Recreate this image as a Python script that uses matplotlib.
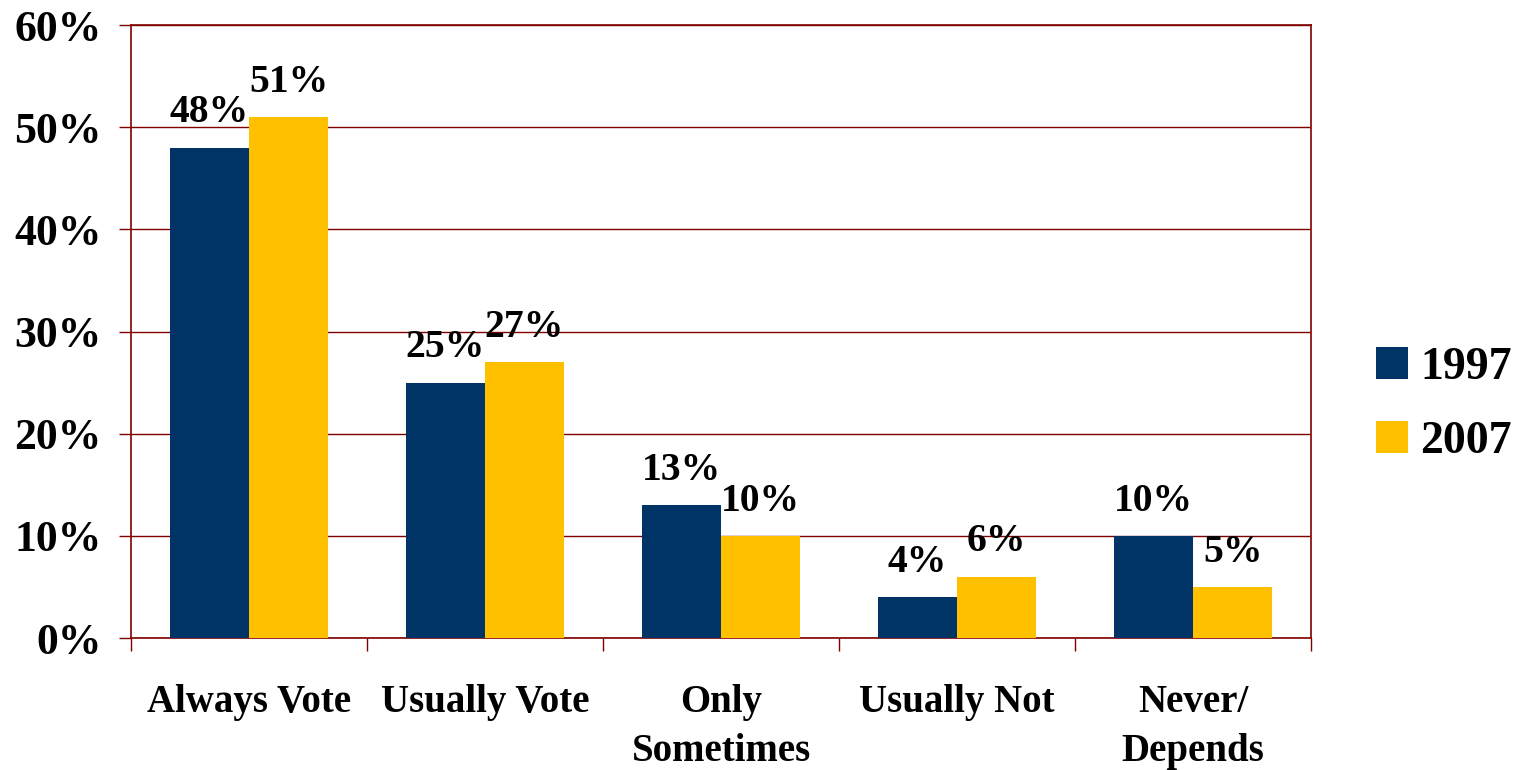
import numpy as np
import matplotlib.pyplot as plt

categories = ["Always Vote", "Usually Vote", "Only\nSometimes", "Usually Not", "Never/\nDepends"]
vals_1997 = [48, 25, 13, 4, 10]
vals_2007 = [51, 27, 10, 6, 5]
years = ["1997", "2007"]

navy = "#003366"
gold = "#FFC000"
maroon = "#800000"

plt.rcParams['font.family'] = ['Liberation Serif', 'DejaVu Serif']
plt.rcParams['font.weight'] = 'bold'

fig = plt.figure(figsize=(15.25, 7.7), dpi=100)
ax = fig.add_axes([0.0859, 0.1714, 0.7738, 0.7961])

x = np.arange(len(categories))
w = 0.335
b1 = ax.bar(x - w / 2, vals_1997, w, color=navy, label=years[0], zorder=3)
b2 = ax.bar(x + w / 2, vals_2007, w, color=gold, label=years[1], zorder=3)

for bars, vals in [(b1, vals_1997), (b2, vals_2007)]:
    for rect, v in zip(bars, vals):
        ax.text(rect.get_x() + rect.get_width() / 2, v + 1.6, f"{v}%",
                ha='center', va='bottom', fontsize=28.5, fontweight='bold')

ax.set_xlim(-0.5, len(categories) - 0.5)
ax.set_ylim(0, 60)
ax.set_yticks(np.arange(0, 61, 10))
ax.set_yticklabels([f"{t}%" for t in range(0, 61, 10)], fontsize=31.5, fontweight='bold')
ax.yaxis.grid(True, color=maroon, linewidth=1, zorder=0)

# boundaries as major ticks, category names on minor ticks
ax.set_xticks(np.arange(-0.5, len(categories), 1))
ax.set_xticklabels([])
ax.set_xticks(x, minor=True)
ax.set_xticklabels(categories, minor=True, fontsize=28, fontweight='bold', va='top',
                   linespacing=1.42)
ax.tick_params(axis='x', which='major', direction='out', length=9, color=maroon, width=1)
ax.tick_params(axis='x', which='minor', length=0, pad=33)
ax.tick_params(axis='y', direction='out', length=9, color=maroon, width=1, pad=12)

for s in ax.spines.values():
    s.set_color(maroon)
    s.set_linewidth(1.2)

ax.legend(loc='center left', bbox_to_anchor=(1376 / 1525, 365 / 770),
          bbox_transform=fig.transFigure, frameon=False, borderpad=0, borderaxespad=0,
          prop={'size': 33, 'weight': 'bold'}, handlelength=0.7, handleheight=0.7,
          handletextpad=0.26, labelspacing=0.7)

fig.savefig("out.png", dpi=100)
